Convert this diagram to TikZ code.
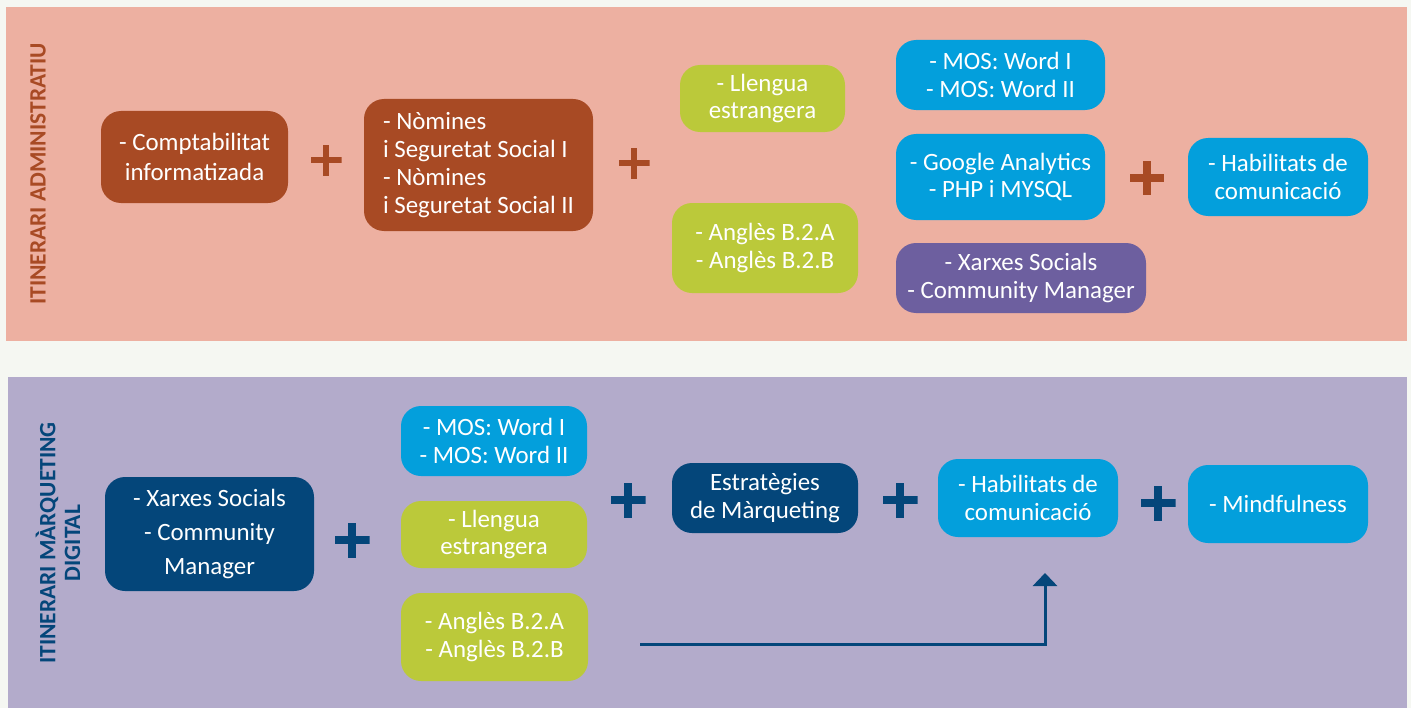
\documentclass[tikz,border=0pt]{standalone}
\usepackage{fontspec}
\setmainfont{Carlito}
\usetikzlibrary{arrows.meta}
\definecolor{pagebg}{HTML}{F5F7F2}
\definecolor{salmon}{HTML}{EDB0A1}
\definecolor{lavender}{HTML}{B3ABCB}
\definecolor{brownc}{HTML}{A84A24}
\definecolor{greenc}{HTML}{BBC93A}
\definecolor{bluec}{HTML}{039FDC}
\definecolor{purplec}{HTML}{6D5F9F}
\definecolor{navyc}{HTML}{04467A}
\tikzset{
  box/.style={rounded corners=20bp, inner sep=0pt, align=center, text=white,
    font=\fontsize{25}{28}\selectfont},
  plusmark/.style 2 args={minimum size=#2, inner sep=0pt, path picture={
    \fill[#1] ([xshift=-0.5*#2,yshift=-0.11*#2]path picture bounding box.center) rectangle ++(#2,0.22*#2);
    \fill[#1] ([xshift=-0.11*#2,yshift=-0.5*#2]path picture bounding box.center) rectangle ++(0.22*#2,#2);}},
  sidelabel/.style={rotate=90, font=\fontsize{23.5}{25}\selectfont\bfseries, align=center}
}
\begin{document}
\begin{tikzpicture}[x=1bp,y=-1bp]
\useasboundingbox (0,0) rectangle (1411,708);
\fill[pagebg] (0,0) rectangle (1411,708);
\fill[salmon] (6,7) rectangle (1407,341);
\fill[lavender] (8,377) rectangle (1407,708);

% side labels
\node[sidelabel, text=brownc] (labA) at (38,174) {ITINERARI ADMINISTRATIU};
\node[sidelabel, text=navyc] (labB) at (58,543) {ITINERARI MÀRQUETING\\DIGITAL};

% top band
\node[box, fill=brownc, minimum width=187bp, minimum height=92bp, font=\fontsize{25}{31}\selectfont] (comp) at (194.5,157) {- Comptabilitat\\informatizada};
\node[plusmark={brownc}{31bp}] (p1) at (326,160) {};
\node[box, fill=brownc, minimum width=229bp, minimum height=132bp, align=left] (nom) at (478.5,165) {- Nòmines\\i Seguretat Social I\\- Nòmines\\i Seguretat Social II};
\node[plusmark={brownc}{31bp}] (p2) at (634,163) {};
\node[box, fill=greenc, minimum width=165bp, minimum height=67bp] (llA) at (762.5,98.5) {- Llengua\\estrangera};
\node[box, fill=greenc, minimum width=186bp, minimum height=90bp] (angA) at (765,248) {- Anglès B.2.A\\- Anglès B.2.B};
\node[box, fill=bluec, minimum width=209bp, minimum height=70bp] (mosA) at (1000.5,75) {- MOS: Word I\\- MOS: Word II};
\node[box, fill=bluec, minimum width=209bp, minimum height=86bp] (goo) at (1000.5,177) {- Google Analytics\\- PHP i MYSQL};
\node[box, fill=purplec, minimum width=250bp, minimum height=70bp] (xarA) at (1021,278) {- Xarxes Socials\\- Community Manager};
\node[plusmark={brownc}{34bp}] (p3) at (1147,178) {};
\node[box, fill=bluec, minimum width=180bp, minimum height=78bp] (habA) at (1278,177) {- Habilitats de\\comunicació};

% bottom band
\node[box, fill=navyc, minimum width=209bp, minimum height=114bp, font=\fontsize{25}{34}\selectfont] (xarB) at (209.5,534) {- Xarxes Socials\\- Community\\Manager};
\node[plusmark={navyc}{35bp}] (p4) at (352,540) {};
\node[box, fill=bluec, minimum width=186bp, minimum height=70bp] (mosB) at (494,441) {- MOS: Word I\\- MOS: Word II};
\node[box, fill=greenc, minimum width=186bp, minimum height=67bp] (llB) at (494,534.5) {- Llengua\\estrangera};
\node[box, fill=greenc, minimum width=187bp, minimum height=88bp] (angB) at (494.5,637) {- Anglès B.2.A\\- Anglès B.2.B};
\node[plusmark={navyc}{35bp}] (p5) at (628,500) {};
\node[box, fill=navyc, minimum width=186bp, minimum height=70bp] (est) at (765,498) {Estratègies\\de Màrqueting};
\node[plusmark={navyc}{35bp}] (p6) at (900,500) {};
\node[box, fill=bluec, minimum width=180bp, minimum height=78bp] (habB) at (1028,498) {- Habilitats de\\comunicació};
\node[plusmark={navyc}{35bp}] (p7) at (1158,503) {};
\node[box, fill=bluec, minimum width=180bp, minimum height=78bp] (mind) at (1278,504) {- Mindfulness};

% arrow
\coordinate (arrS) at (640,644);
\coordinate (arrE) at (1045,573);
\draw[navyc, line width=3bp, -{Triangle[width=24bp,length=13bp]}] (arrS) -| (arrE);
\end{tikzpicture}
\end{document}
